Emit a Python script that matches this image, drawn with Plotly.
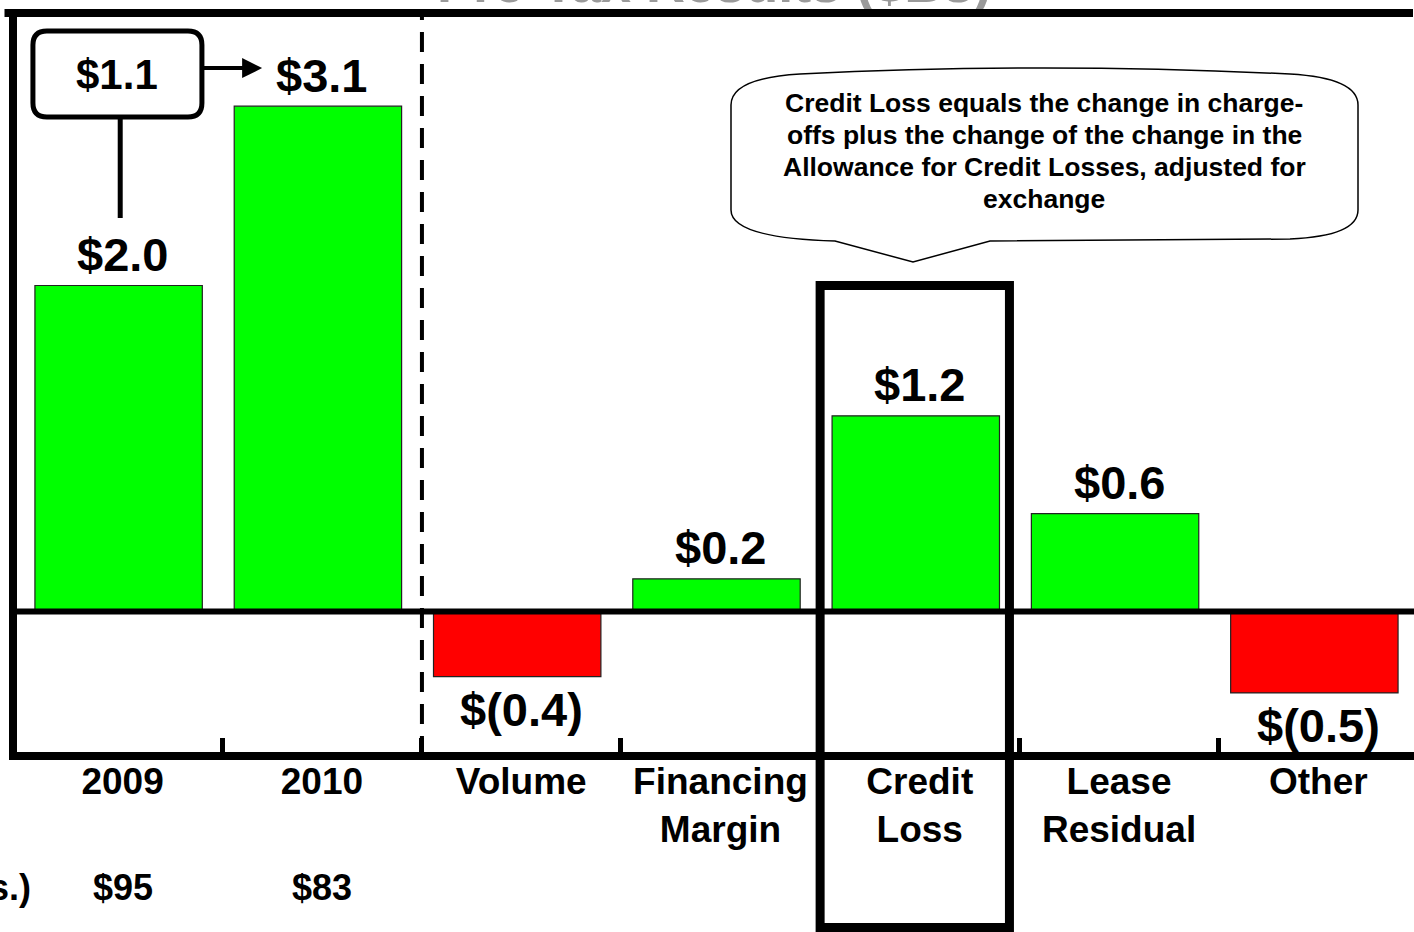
import plotly.graph_objects as go

# ---------------- data ----------------
categories = ["2009", "2010", "Volume", "Financing Margin", "Credit Loss", "Lease Residual", "Other"]
tick_labels = ["2009", "2010", "Volume", "Financing<br>Margin", "Credit<br>Loss", "Lease<br>Residual", "Other"]
values = [2.0, 3.1, -0.4, 0.2, 1.2, 0.6, -0.5]
asset_years = ["2009", "2010"]
asset_values = [95, 83]
title_text = "Pre-Tax Results ($Bs)"
asset_label = "Assets ($Bs.)"
callout_lines = [
    "Credit Loss equals the change in charge-",
    "offs plus the change of the change in the",
    "Allowance for Credit Losses, adjusted for",
    "exchange",
]

# ---------------- geometry ----------------
W, H = 1414, 932
ML, MT, MR, MB = 13, 13, 0, 176
PW = W - ML - MR
PH = H - MT - MB
X_RANGE = [-0.530, 6.50]
Y_RANGE = [-0.887, 3.672]
LABEL_SHIFT = 0.02
FONT = "Liberation Sans, Arial, sans-serif"


def xp(v):
    return (v - X_RANGE[0]) / (X_RANGE[1] - X_RANGE[0])


def yp(v):
    return (v - Y_RANGE[0]) / (Y_RANGE[1] - Y_RANGE[0])


def px_x(p):
    return (p - ML) / PW


def px_y(p):
    return (MT + PH - p) / PH


def fmt(v):
    return f"${v:.1f}" if v >= 0 else f"$({abs(v):.1f})"


x_idx = list(range(len(categories)))
colors = ["#00FF00" if v >= 0 else "#FF0000" for v in values]

fig = go.Figure()
fig.add_trace(go.Bar(
    x=x_idx, y=values, width=0.84,
    marker=dict(color=colors, line=dict(color="#222222", width=1.2)),
    hoverinfo="skip", showlegend=False,
))

annotations = []
shapes = []

# title (partly cut off at the top)
annotations.append(dict(
    x=0.5, y=px_y(-17), xref="paper", yref="paper", text=f"<b>{title_text}</b>",
    showarrow=False, xanchor="center", yanchor="middle",
    font=dict(family=FONT, size=54, color="#9a9a9a"),
))

# value labels
for i, v in enumerate(values):
    annotations.append(dict(
        x=i + LABEL_SHIFT, y=v, xref="x", yref="y", text=f"<b>{fmt(v)}</b>", showarrow=False,
        xanchor="center", yanchor="middle", yshift=31 if v >= 0 else -33,
        font=dict(family=FONT, size=47, color="black"),
    ))

# assets row
for yr, av in zip(asset_years, asset_values):
    annotations.append(dict(
        x=categories.index(yr) + LABEL_SHIFT, y=px_y(887), xref="x", yref="paper",
        text=f"<b>${av}</b>", showarrow=False, xanchor="center", yanchor="middle",
        font=dict(family=FONT, size=36, color="black"),
    ))
annotations.append(dict(
    x=px_x(33), y=px_y(887), xref="paper", yref="paper", text=f"<b>{asset_label}</b>",
    showarrow=False, xanchor="right", yanchor="middle",
    font=dict(family=FONT, size=36, color="black"),
))

# change box ($1.1)
change = values[1] - values[0]
bx0, bx1, by0, by1 = xp(-0.43), xp(0.418), yp(3.034), yp(3.561)
rx, ry = 14 / PW, 14 / PH
shapes.append(dict(
    type="path", xref="paper", yref="paper",
    path=(f"M{bx0+rx},{by1} L{bx1-rx},{by1} Q{bx1},{by1} {bx1},{by1-ry} "
          f"L{bx1},{by0+ry} Q{bx1},{by0} {bx1-rx},{by0} L{bx0+rx},{by0} "
          f"Q{bx0},{by0} {bx0},{by0+ry} L{bx0},{by1-ry} Q{bx0},{by1} {bx0+rx},{by1} Z"),
    line=dict(color="black", width=5), fillcolor="white", layer="above",
))
annotations.append(dict(
    x=(bx0 + bx1) / 2, y=(by0 + by1) / 2, xref="paper", yref="paper",
    text=f"<b>{fmt(change)}</b>", showarrow=False, xanchor="center", yanchor="middle",
    font=dict(family=FONT, size=42, color="black"),
))
# connector from box down to 2009 label
shapes.append(dict(type="line", xref="paper", yref="paper",
                   x0=xp(0.008), x1=xp(0.008), y0=by0, y1=yp(2.414),
                   line=dict(color="black", width=5), layer="above"))
# arrow to 2010
annotations.append(dict(
    x=0.72, y=3.334, xref="x", yref="y", ax=0.418, ay=3.334, axref="x", ayref="y",
    text="", showarrow=True, arrowhead=2, arrowsize=1, arrowwidth=4,
    arrowcolor="black", standoff=0, startstandoff=0,
))

# dashed divider
shapes.append(dict(type="line", xref="paper", yref="paper",
                   x0=xp(1.522), x1=xp(1.522), y0=0, y1=1,
                   line=dict(color="black", width=4, dash="20px,12px"), layer="above"))

# zero line
shapes.append(dict(type="line", xref="paper", yref="paper",
                   x0=0, x1=1, y0=yp(0), y1=yp(0),
                   line=dict(color="black", width=6), layer="above"))

# frame: left and bottom
shapes.append(dict(type="line", xref="paper", yref="paper",
                   x0=0, x1=0, y0=-4 / PH, y1=1 + 4 / PH,
                   line=dict(color="black", width=8), layer="above"))
shapes.append(dict(type="line", xref="paper", yref="paper",
                   x0=-4 / PW, x1=1, y0=0, y1=0,
                   line=dict(color="black", width=8), layer="above"))

# Credit Loss highlight box
shapes.append(dict(type="rect", xref="paper", yref="paper",
                   x0=xp(3.52), x1=xp(4.47), y0=yp(-1.94), y1=yp(2.0),
                   line=dict(color="black", width=9), layer="above"))

# speech bubble
def P(x, y):
    return f"{px_x(x):.5f},{px_y(y):.5f}"

bubble = (f"M{P(731,105)} Q{P(731,78)} {P(800,74)} Q{P(1044,62)} {P(1290,74)} "
          f"Q{P(1358,78)} {P(1358,105)} L{P(1358,210)} Q{P(1358,236)} {P(1290,239)} "
          f"L{P(990,241)} L{P(913,262)} L{P(835,241)} Q{P(731,238)} {P(731,210)} Z")
shapes.append(dict(type="path", xref="paper", yref="paper", path=bubble,
                   line=dict(color="black", width=1.5), fillcolor="white", layer="above"))
for k, line in enumerate(callout_lines):
    annotations.append(dict(
        x=px_x(1044), y=px_y(103 + 32 * k), xref="paper", yref="paper",
        text=f"<b>{line}</b>", showarrow=False,
        xanchor="center", yanchor="middle", align="center",
        font=dict(family=FONT, size=26.5, color="black"),
    ))

# top frame line (drawn as an annotation arrow so it sits above the title)
annotations.append(dict(
    x=1, y=1, xref="paper", yref="paper", ax=-(PW + 10), ay=0,
    text="", showarrow=True, arrowhead=0, arrowwidth=8, arrowcolor="black",
    standoff=0, startstandoff=0, font=dict(size=1),
))

fig.update_layout(
    width=W, height=H,
    margin=dict(l=ML, r=MR, t=MT, b=MB, pad=0),
    paper_bgcolor="white", plot_bgcolor="white",
    bargap=0.16,
    annotations=annotations, shapes=shapes,
    font=dict(family=FONT, color="black"),
    xaxis=dict(
        range=X_RANGE, showgrid=False, zeroline=False, showline=False,
        tickmode="array", tickvals=[i + LABEL_SHIFT for i in x_idx], ticktext=tick_labels,
        ticks="",
        tickfont=dict(family=FONT, size=37, color="black", weight="bold"),
        minor=dict(tickmode="array", tickvals=[i + 0.52 for i in x_idx[:-1]],
                   ticks="inside", ticklen=18, tickwidth=5, tickcolor="black", showgrid=False),
        fixedrange=True,
    ),
    yaxis=dict(range=Y_RANGE, showgrid=False, zeroline=False, showline=False,
               showticklabels=False, ticks="", fixedrange=True),
)

fig.write_html("out.html", config={"displayModeBar": False},
               post_script="document.body.style.margin='0px';")
